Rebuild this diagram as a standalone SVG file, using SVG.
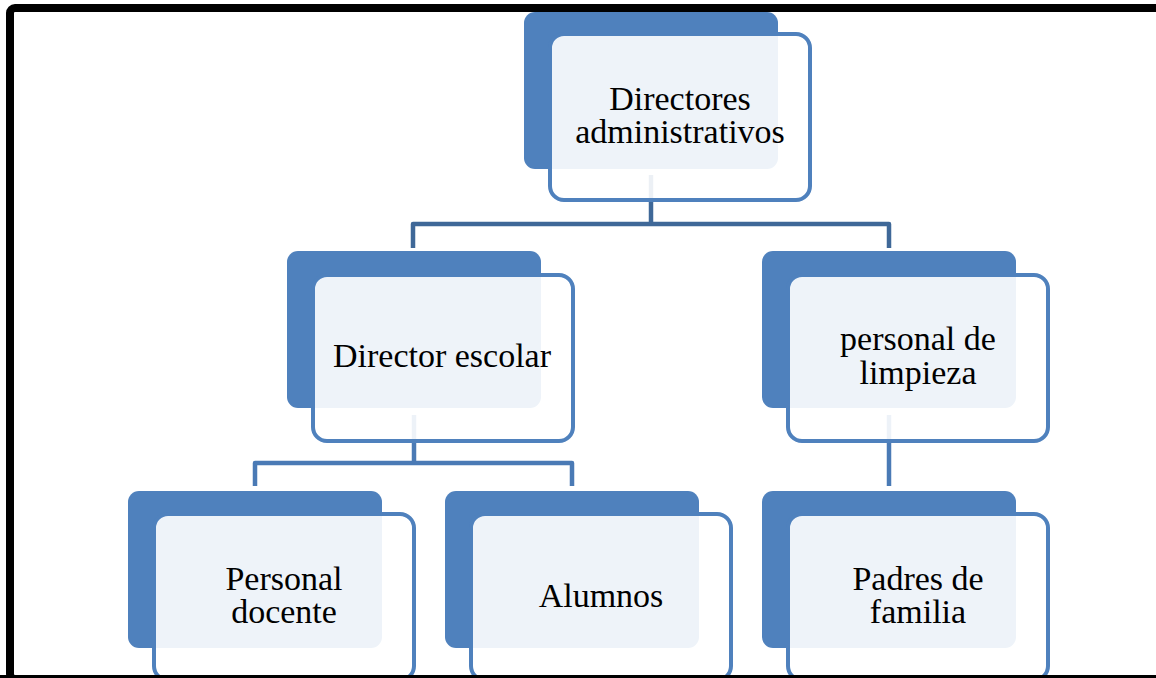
<svg xmlns="http://www.w3.org/2000/svg" width="1156" height="678" viewBox="0 0 1156 678">
  <style>
    .back { fill: #4F81BD; }
    .front { fill: #FFFFFF; fill-opacity: 0.9; stroke: #4F81BD; stroke-width: 4; }
    .label { font-family: "Liberation Serif", "Times New Roman", serif; font-size: 34px; fill: #000000; text-anchor: middle; }
    .conn-top { fill: none; stroke: #3F6898; stroke-width: 4.5; stroke-linejoin: round; }
    .conn { fill: none; stroke: #4A7AB5; stroke-width: 4.5; stroke-linejoin: round; }
  </style>
  <rect x="0" y="0" width="1156" height="678" fill="#FFFFFF"/>
  <rect id="frame" x="10" y="8" width="1170" height="671" rx="5" fill="none" stroke="#000000" stroke-width="8"/>

  <g id="connectors">
    <path class="conn-top" d="M651,175 V224"/>
    <path class="conn-top" d="M413,248 V224 H889 V248"/>
    <path class="conn" d="M414,415 V463"/>
    <path class="conn" d="M255,486 V463 H572 V486"/>
    <path class="conn" d="M889,415 V486"/>
  </g>

  <g id="node-directores">
    <rect class="back" x="524" y="12" width="254" height="157" rx="11"/>
    <rect class="front" x="550" y="34" width="260" height="166" rx="14"/>
    <text class="label" x="680" y="110">Directores</text>
    <text class="label" x="680" y="143">administrativos</text>
  </g>

  <g id="node-director-escolar">
    <rect class="back" x="287" y="251" width="254" height="157" rx="11"/>
    <rect class="front" x="313" y="275" width="260" height="166" rx="14"/>
    <text class="label" x="442" y="367">Director escolar</text>
  </g>

  <g id="node-limpieza">
    <rect class="back" x="762" y="251" width="254" height="157" rx="11"/>
    <rect class="front" x="788" y="275" width="260" height="166" rx="14"/>
    <text class="label" x="918" y="350">personal de</text>
    <text class="label" x="918" y="384">limpieza</text>
  </g>

  <g id="node-personal-docente">
    <rect class="back" x="128" y="491" width="254" height="157" rx="11"/>
    <rect class="front" x="154" y="514" width="260" height="166" rx="14"/>
    <text class="label" x="284" y="590">Personal</text>
    <text class="label" x="284" y="623">docente</text>
  </g>

  <g id="node-alumnos">
    <rect class="back" x="445" y="491" width="254" height="157" rx="11"/>
    <rect class="front" x="471" y="514" width="260" height="166" rx="14"/>
    <text class="label" x="601" y="607">Alumnos</text>
  </g>

  <g id="node-padres">
    <rect class="back" x="762" y="491" width="254" height="157" rx="11"/>
    <rect class="front" x="788" y="514" width="260" height="166" rx="14"/>
    <text class="label" x="918" y="590">Padres de</text>
    <text class="label" x="918" y="623">familia</text>
  </g>

  <rect x="0" y="675" width="1156" height="3" fill="#000000"/>
</svg>
